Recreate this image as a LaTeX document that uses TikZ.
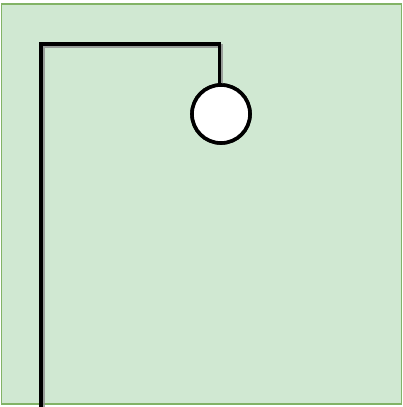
\documentclass[tikz,border=0pt]{standalone}
\usetikzlibrary{calc}
\definecolor{bgfill}{HTML}{D0E8D2}
\definecolor{bgline}{HTML}{82B366}
\tikzset{
  wire/.style={line width=3.8pt, black},
  wireshadow/.style={line width=3.8pt, black!45, opacity=0.8},
  bulb/.style={circle, draw=black, fill=white, line width=3.6pt, minimum size=58pt, inner sep=0pt}
}
\begin{document}
\begin{tikzpicture}[x=1pt,y=-1pt]
\useasboundingbox (0,0) rectangle (403,407);
\draw[bgline, fill=bgfill, line width=1.3pt] (1.5,4) rectangle (401.5,404);
\coordinate (start) at (41,407);
\coordinate (c1) at (41,44);
\coordinate (c2) at (219.5,44);
\node[bulb] (lamp) at (221,114) {};
\coordinate (c3) at (219.5,84);
\draw[wireshadow] ($(start)+(2,2)$) -- ($(c1)+(2,2)$) -- ($(c2)+(2,2)$) -- ($(c3)+(2,2)$);
\draw[wire] (start) -- (c1) -- (c2) -- (c3);
\node[bulb] at (lamp) {};
\end{tikzpicture}
\end{document}
